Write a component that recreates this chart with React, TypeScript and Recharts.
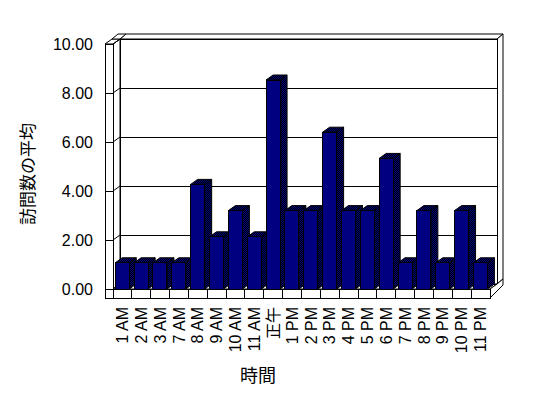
import { BarChart, Bar, XAxis, YAxis, CartesianGrid } from 'recharts';

const hours = ['1 AM', '2 AM', '3 AM', '7 AM', '8 AM', '9 AM', '10 AM', '11 AM', '正午', '1 PM', '2 PM', '3 PM', '4 PM', '5 PM', '6 PM', '7 PM', '8 PM', '9 PM', '10 PM', '11 PM'];
const avgVisits = [1.07, 1.07, 1.07, 1.07, 4.27, 2.13, 3.2, 2.13, 8.53, 3.2, 3.2, 6.4, 3.2, 3.2, 5.33, 1.07, 3.2, 1.07, 3.2, 1.07];
const yTicks = [0, 2, 4, 6, 8, 10];

const data = hours.map((h, i) => ({ hour: h, value: avgVisits[i] }));

// plot box (front plane) and 3d depth
const W = 548;
const H = 398;
const L = 113;
const R = 490;
const T = 44;
const B = 289;
const DX = 7;
const DY = 5;
const FONT = '"Liberation Sans", Arial, "Noto Sans CJK JP", sans-serif';
const band = (R - L) / hours.length;

const Bar3D = (props: any) => {
  const { x, y, width, height } = props;
  if (!height || height <= 0) return null;
  return (
    <g stroke="#000" strokeWidth={1}>
      <polygon
        points={`${x + width},${y} ${x + width + DX},${y - DY} ${x + width + DX},${y + height - DY} ${x + width},${y + height}`}
        fill="url(#dither)"
      />
      <polygon
        points={`${x},${y} ${x + DX},${y - DY} ${x + width + DX},${y - DY} ${x + width},${y}`}
        fill="url(#dither)"
      />
      <rect x={x} y={y} width={width} height={height} fill="#000080" shapeRendering="crispEdges" />
    </g>
  );
};

const gridLine = (props: any) => {
  const { x1, y1, x2 } = props;
  return (
    <g key={`grid-${y1}`} stroke="#000" strokeWidth={1}>
      <line x1={x1 - 8} y1={y1} x2={x1} y2={y1} shapeRendering="crispEdges" />
      <line x1={x1} y1={y1} x2={x1 + DX} y2={y1 - DY} />
      <line x1={x1 + DX} y1={y1 - DY} x2={x2 + DX} y2={y1 - DY} shapeRendering="crispEdges" />
    </g>
  );
};

const HourTick = (props: any) => {
  const { x, y, payload } = props;
  return (
    <text
      x={x}
      y={y}
      transform={`rotate(-90 ${x} ${y})`}
      textAnchor="end"
      dy="0.35em"
      fontSize={16}
      fontFamily={FONT}
      fill="#000"
    >
      {payload.value}
    </text>
  );
};

function Frame() {
  const seps = hours.map((_, i) => L + (i + 1) * band);
  return (
    <svg width={W} height={H} style={{ position: 'absolute', left: 0, top: 0 }}>
      <defs>
        <pattern id="dither" width={2} height={2} patternUnits="userSpaceOnUse">
          <rect width={2} height={2} fill="#000" />
          <rect x={0} y={0} width={1} height={1} fill="#000080" />
          <rect x={1} y={1} width={1} height={1} fill="#000080" />
        </pattern>
      </defs>
      <g fill="#fff" stroke="#000" strokeWidth={1}>
        {/* back wall */}
        <polygon points={`${L + DX},${T - DY} ${L + DX + 6},${T - DY - 5} ${R + DX + 6},${T - DY - 5} ${R + DX},${T - DY}`} />
        <polygon points={`${R + DX},${T - DY} ${R + DX + 6},${T - DY - 5} ${R + DX + 6},${B - DY - 5} ${R + DX},${B - DY}`} />
        <rect x={L + DX} y={T - DY} width={R - L} height={B - T} shapeRendering="crispEdges" />
        {/* left wall */}
        <polygon points={`${L},${T} ${L + DX},${T - DY} ${L + DX},${B - DY} ${L},${B}`} />
        <polygon points={`${L - 8},${T} ${L},${T} ${L + DX},${T - DY} ${L - 8 + DX},${T - DY}`} />
        <polygon points={`${L - 8 + DX},${T - DY} ${L + DX},${T - DY} ${L + DX + 6},${T - DY - 5} ${L - 8 + DX + 6},${T - DY - 5}`} />
        <rect x={L - 8} y={T} width={8} height={B - T + 9} shapeRendering="crispEdges" />
        {/* floor */}
        <polygon points={`${L},${B} ${R},${B} ${R + DX},${B - DY} ${L + DX},${B - DY}`} />
        <polygon points={`${R},${B} ${R + DX},${B - DY} ${R + DX + 6},${B - DY - 5} ${R + DX + 6},${B - 4} ${R},${B + 9}`} />
        <rect x={L} y={B} width={R - L} height={9} shapeRendering="crispEdges" />
      </g>
      {seps.map((sx, i) => (
        <line key={i} x1={sx} y1={B} x2={sx} y2={B + 9} stroke="#000" shapeRendering="crispEdges" />
      ))}
      <text
        x={28}
        y={174}
        transform="rotate(-90 28 174)"
        textAnchor="middle"
        dy="0.35em"
        fontSize={17}
        fontFamily={FONT}
        fill="#000"
      >
        訪問数の平均
      </text>
      <text x={258} y={376} textAnchor="middle" dy="0.35em" fontSize={18} fontFamily={FONT} fill="#000">
        時間
      </text>
    </svg>
  );
}

export default function App() {
  return (
    <div style={{ position: 'absolute', left: 0, top: 0, width: W, height: H, background: '#fff' }}>
      <Frame />
      <div style={{ position: 'absolute', left: 0, top: 0 }}>
        <BarChart
          width={W}
          height={H}
          data={data}
          margin={{ top: T, right: W - R, bottom: 0, left: 0 }}
          barCategoryGap="12%"
        >
          <CartesianGrid vertical={false} horizontal={gridLine} />
          <XAxis
            dataKey="hour"
            height={H - B}
            interval={0}
            axisLine={false}
            tickLine={false}
            tickSize={0}
            tickMargin={18}
            tick={<HourTick />}
          />
          <YAxis
            type="number"
            domain={[0, 10]}
            ticks={yTicks}
            width={L}
            axisLine={false}
            tickLine={false}
            tickSize={0}
            tickMargin={20}
            tickFormatter={(v: number) => v.toFixed(2)}
            tick={{ fill: '#000', fontSize: 16, fontFamily: FONT }}
          />
          <Bar dataKey="value" shape={Bar3D} isAnimationActive={false} />
        </BarChart>
      </div>
    </div>
  );
}
